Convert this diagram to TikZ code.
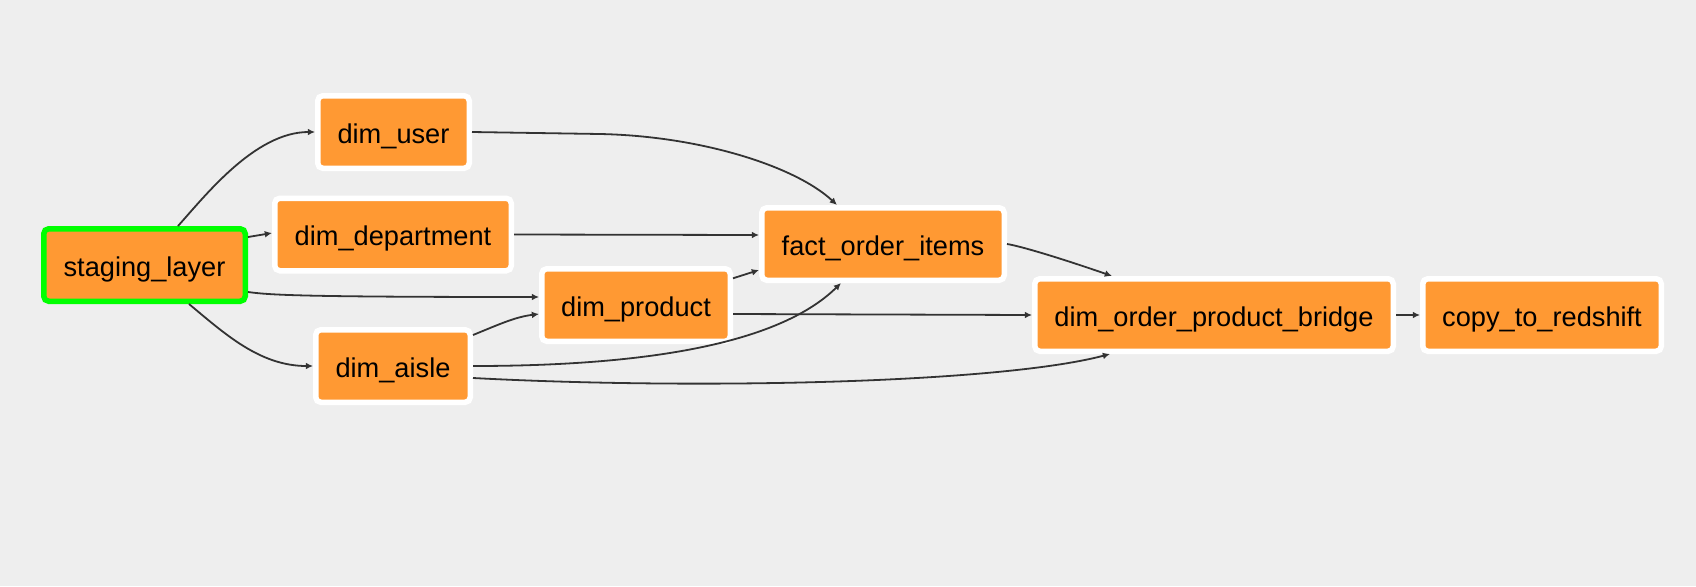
\documentclass[tikz,border=0pt]{standalone}
\usepackage{fontspec}
\setmainfont{Liberation Sans}
\usetikzlibrary{arrows.meta,calc}
\definecolor{canvas}{RGB}{238,238,238}
\definecolor{taskfill}{RGB}{255,153,51}
\definecolor{rungreen}{RGB}{0,255,0}
\definecolor{edgegray}{RGB}{51,51,51}
\tikzset{
  task/.style={draw=white, fill=taskfill, line width=2.75pt, rounded corners=2.5pt,
    minimum height=36.25pt, inner sep=0pt, text height=11pt, text depth=0pt,
    font=\fontsize{13.6}{16}\selectfont},
  running/.style={task, draw=rungreen},
  link/.style={->, draw=edgegray, line width=0.9pt},
}
\begin{document}
\begin{tikzpicture}[x=0.5pt, y=0.5pt, >={Latex[length=3.6pt,width=3.4pt]}]
\fill[canvas] (0,0) rectangle (1696,586);
\node[running, minimum width=100.75pt] (staging) at (144.5,321) {staging\_layer};
\node[task, minimum width=75.75pt] (user) at (393.5,454) {dim\_user};
\node[task, minimum width=118.25pt] (department) at (393,351.5) {dim\_department};
\node[task, minimum width=77.25pt] (aisle) at (393,220) {dim\_aisle};
\node[task, minimum width=94.25pt] (product) at (636,281) {dim\_product};
\node[task, minimum width=121.25pt] (fact) at (883,342) {fact\_order\_items};
\node[task, minimum width=179.25pt] (bridge) at (1214,271) {dim\_order\_product\_bridge};
\node[task, minimum width=119.25pt] (copy) at (1542,271) {copy\_to\_redshift};
\draw[link] ($(staging.north)+(33.5,0)$) .. controls (205,390) and (255,454) .. (user.west);
\draw[link] ($(staging.north east)+(0,-11)$) -- ($(department.west)+(0,1.5)$);
\draw[link] ($(staging.east)+(0,-27)$) .. controls (270,291) and (300,289) .. ($(product.west)+(0,8)$);
\draw[link] ($(staging.south)+(44.5,0)$) .. controls (225,252) and (260,220) .. (aisle.west);
\draw[link] ($(aisle.east)+(0,31)$) .. controls (500,262) and (515,269) .. ($(product.west)+(0,-9)$);
\draw[link] (aisle.east) .. controls (700,220) and (795,258) .. ($(fact.south)+(-42,0)$);
\draw[link] ($(aisle.east)+(0,-12)$) .. controls (700,196) and (1000,203) .. ($(bridge.south)+(-104,0)$);
\draw[link] (user.east) -- (600,452) .. controls (700,450) and (795,420) .. ($(fact.north)+(-46,0)$);
\draw[link] (department.east) -- ($(fact.west)+(0,9)$);
\draw[link] ($(product.east)+(0,26.7)$) -- ($(fact.west)+(0,-26)$);
\draw[link] ($(product.east)+(0,-9)$) -- (bridge.west);
\draw[link] (fact.east) .. controls (1020,340) and (1060,328) .. ($(bridge.north)+(-102,0)$);
\draw[link] (bridge.east) -- (copy.west);
\end{tikzpicture}
\end{document}
